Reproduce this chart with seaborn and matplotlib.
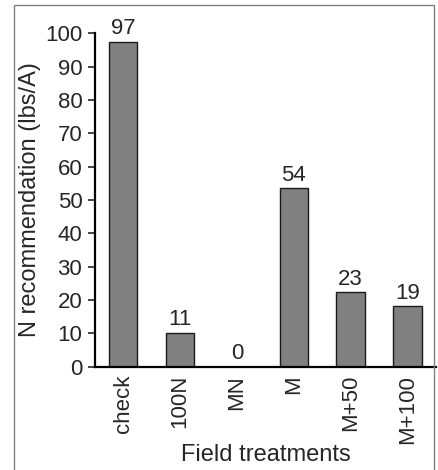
import matplotlib
matplotlib.use('Agg')
import matplotlib.pyplot as plt
import seaborn as sns
from matplotlib.patches import Rectangle

# values
treatments = ['check', '100N', 'MN', 'M', 'M+50', 'M+100']
bar_heights = [97.5, 10, 0, 53.5, 22.3, 18.1]
bar_labels = ['97', '11', '0', '54', '23', '19']
y_ticks = [0, 10, 20, 30, 40, 50, 60, 70, 80, 90, 100]

sns.set_style('ticks')
plt.rcParams['font.family'] = ['Liberation Sans', 'DejaVu Sans']
fs = 16

fig = plt.figure(figsize=(4.39, 4.70), dpi=100)
ax = fig.add_axes([0.216, 0.22, 0.777, 0.709])

sns.barplot(x=treatments, y=bar_heights, color='#808080', saturation=1,
            edgecolor='#1a1a1a', linewidth=1, width=0.5, ax=ax)

for i, (h, lab) in enumerate(zip(bar_heights, bar_labels)):
    ax.annotate(lab, (i, h), xytext=(0, 2), textcoords='offset points',
                ha='center', va='bottom', fontsize=fs, annotation_clip=False)

ax.set_ylim(0, 100)
ax.set_xlim(-0.5, 5.5)
ax.set_yticks(y_ticks)
ax.tick_params(axis='y', length=5, width=1.2, labelsize=fs, pad=4)
ax.tick_params(axis='x', length=0, labelsize=fs, pad=6)
plt.setp(ax.get_xticklabels(), rotation=90)
ax.set_ylabel('N recommendation (lbs/A)', fontsize=17, labelpad=3)
ax.set_xlabel('Field treatments', fontsize=17, labelpad=0)

sns.despine(ax=ax)
for s in ['left', 'bottom']:
    ax.spines[s].set_linewidth(1.6)
    ax.spines[s].set_color('black')

# outer frame around the chart
fig.patches.append(Rectangle((14 / 439, -0.05), 420 / 439, 1.05 - 5 / 470,
                             transform=fig.transFigure, fill=False,
                             edgecolor='#808080', linewidth=1))

fig.savefig('out.png', dpi=100)
